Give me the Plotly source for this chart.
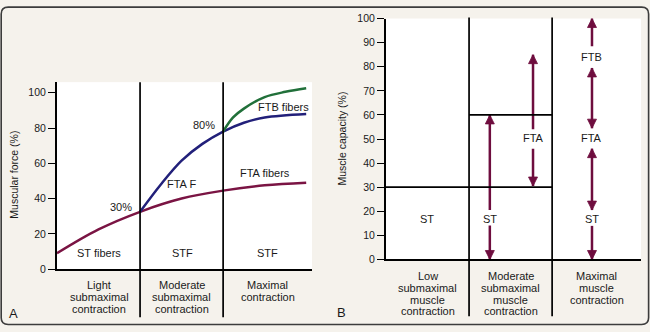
import plotly.graph_objects as go

W, H = 650, 332

# ---------------- Panel A data ----------------
st_x = [0, 0.5, 1, 1.5, 2, 2.5, 3]
st_force = [9, 22.5, 32.5, 40, 44.5, 47.5, 49]
fta_x = [1, 1.25, 1.5, 1.75, 2, 2.25, 2.5, 3]
fta_force = [32.5, 48, 61.5, 71, 78, 83, 86, 88]
ftb_x = [2, 2.12, 2.25, 2.5, 2.75, 3]
ftb_force = [78, 86, 91, 97.5, 100.5, 102.5]

a_ticks = [0, 20, 40, 60, 80, 100]
a_categories = [["Light", "submaximal", "contraction"],
                ["Moderate", "submaximal", "contraction"],
                ["Maximal", "contraction"]]
a_cat_x = [0.51, 1.5, 2.54]
a_labels = ["ST fibers", "STF", "STF", "FTA F", "FTA fibers", "FTB fibers"]
a_label_x = [0.5, 1.51, 2.53, 1.5, 2.51, 2.73]
a_label_y = [8.9, 8.9, 8.9, 48.5, 54.5, 91.8]
pct_labels = ["30%", "80%"]
pct_x = [0.93, 1.93]
pct_y = [35, 81.5]

# ---------------- Panel B data ----------------
b_ticks = [0, 10, 20, 30, 40, 50, 60, 70, 80, 90, 100]
b_categories = [["Low", "submaximal", "muscle", "contraction"],
                ["Moderate", "submaximal", "muscle", "contraction"],
                ["Maximal", "muscle", "contraction"]]
b_cat_x = [0.5, 1.5, 2.54]
b_hline_y = [30, 60]
b_hline_x0 = [0, 1]
b_hline_x1 = [2, 2]
b_labels = ["ST", "ST", "FTA", "FTB", "FTA", "ST"]
b_label_x = [0.49, 1.25, 1.77, 2.48, 2.48, 2.48]
b_label_y = [17, 17, 50.3, 83.9, 50.3, 17]
arrow_x = [1.25, 1.25, 1.77, 1.77, 2.48, 2.48, 2.48, 2.48]
arrow_from = [20.5, 14.5, 54, 46, 88.5, 54.5, 20.5, 14]
arrow_to = [60, 0, 85, 30.5, 100, 79.5, 46, 0]
arrow_double = [False, False, False, False, False, True, True, False]

dividers = [1, 2]
x_range = [0, 3.07]

# ---------------- style ----------------
FONT = "Liberation Sans, Arial, sans-serif"
TXT = "#1a1a1a"
BG = "#f5f2ec"
C_ST = "#7a1443"
C_FTA = "#22207a"
C_FTB = "#21703a"
C_ARW = "#6e0d3e"


def X(px):
    return px / W


def Y(py):
    return 1 - py / H


fig = go.Figure()

# Panel A curves
fig.add_trace(go.Scatter(x=st_x, y=st_force, mode="lines", line=dict(color=C_ST, width=2.5, shape="spline"),
                         xaxis="x", yaxis="y", hoverinfo="skip"))
fig.add_trace(go.Scatter(x=fta_x, y=fta_force, mode="lines", line=dict(color=C_FTA, width=2.5, shape="spline"),
                         xaxis="x", yaxis="y", hoverinfo="skip"))
fig.add_trace(go.Scatter(x=ftb_x, y=ftb_force, mode="lines", line=dict(color=C_FTB, width=2.5, shape="spline"),
                         xaxis="x", yaxis="y", hoverinfo="skip"))

# Panel B arrows
sx, sy = [], []
ux, uy, dx, dy = [], [], [], []
for xv, f, t, dbl in zip(arrow_x, arrow_from, arrow_to, arrow_double):
    sx += [xv, xv, None]
    sy += [f, t, None]
    if t > f:
        ux.append(xv); uy.append(t)
        if dbl:
            dx.append(xv); dy.append(f)
    else:
        dx.append(xv); dy.append(t)
        if dbl:
            ux.append(xv); uy.append(f)

fig.add_trace(go.Scatter(x=sx, y=sy, mode="lines", line=dict(color=C_ARW, width=2.5),
                         xaxis="x2", yaxis="y2", hoverinfo="skip", cliponaxis=False))
fig.add_trace(go.Scatter(x=ux, y=uy, mode="markers",
                         marker=dict(symbol="arrow-up", size=9, color=C_ARW, line=dict(width=0.8, color=C_ARW)),
                         xaxis="x2", yaxis="y2", hoverinfo="skip", cliponaxis=False))
fig.add_trace(go.Scatter(x=dx, y=dy, mode="markers",
                         marker=dict(symbol="arrow-down", size=9, color=C_ARW, line=dict(width=0.8, color=C_ARW)),
                         xaxis="x2", yaxis="y2", hoverinfo="skip", cliponaxis=False))

axis_common = dict(showgrid=False, zeroline=False, showline=True, linecolor="black", linewidth=2,
                   fixedrange=True)

fig.update_layout(
    width=W, height=H, margin=dict(l=0, r=0, t=0, b=0),
    paper_bgcolor=BG, plot_bgcolor="white", showlegend=False,
    font=dict(family=FONT, color=TXT, size=11),
    xaxis=dict(domain=[X(57), X(312)], range=x_range, showticklabels=False, ticks="", anchor="y", **axis_common),
    yaxis=dict(domain=[Y(273), Y(79)], range=[0, 106], tickvals=a_ticks, ticks="outside", ticklen=7,
               tickwidth=1.2, tickcolor="black", tickfont=dict(size=10.5, color=TXT), anchor="x", **axis_common),
    xaxis2=dict(domain=[X(386), X(641)], range=x_range, showticklabels=False, ticks="", anchor="y2", **axis_common),
    yaxis2=dict(domain=[Y(263), Y(13)], range=[0, 100], tickvals=b_ticks, ticks="outside", ticklen=7,
                tickwidth=1.2, tickcolor="black", tickfont=dict(size=10.5, color=TXT), anchor="x2", **axis_common),
)

shapes = []
# dividers
for d in dividers:
    shapes.append(dict(type="line", xref="x", yref="paper", x0=d, x1=d, y0=Y(323), y1=Y(79),
                       line=dict(color="black", width=1.7), layer="above"))
    shapes.append(dict(type="line", xref="x2", yref="paper", x0=d, x1=d, y0=Y(322), y1=Y(12),
                       line=dict(color="black", width=1.7), layer="above"))
for yv, x0, x1 in zip(b_hline_y, b_hline_x0, b_hline_x1):
    shapes.append(dict(type="line", xref="x2", yref="y2", x0=x0, x1=x1, y0=yv, y1=yv,
                       line=dict(color="black", width=1.7), layer="above"))

# outer rounded border
x0, x1, y0, y1, r = 1.2, 648.6, 1.2, 330.4, 7
path = (f"M {X(x0 + r)},{Y(y0)} L {X(x1 - r)},{Y(y0)} Q {X(x1)},{Y(y0)} {X(x1)},{Y(y0 + r)} "
        f"L {X(x1)},{Y(y1 - r)} Q {X(x1)},{Y(y1)} {X(x1 - r)},{Y(y1)} "
        f"L {X(x0 + r)},{Y(y1)} Q {X(x0)},{Y(y1)} {X(x0)},{Y(y1 - r)} "
        f"L {X(x0)},{Y(y0 + r)} Q {X(x0)},{Y(y0)} {X(x0 + r)},{Y(y0)} Z")
shapes.append(dict(type="path", xref="paper", yref="paper", path=path,
                   line=dict(color="#3c3c3c", width=1.6), fillcolor="rgba(0,0,0,0)", layer="above"))
fig.update_layout(shapes=shapes)

ann = []
# panel A in-plot labels
for t, xv, yv in zip(a_labels, a_label_x, a_label_y):
    ann.append(dict(text=t, x=xv, y=yv, xref="x", yref="y", showarrow=False,
                    xanchor="center", yanchor="middle", font=dict(size=11)))
for t, xv, yv in zip(pct_labels, pct_x, pct_y):
    ann.append(dict(text=t, x=xv, y=yv, xref="x", yref="y", showarrow=False,
                    xanchor="right", yanchor="middle", font=dict(size=11)))
# panel B in-plot labels
for t, xv, yv in zip(b_labels, b_label_x, b_label_y):
    ann.append(dict(text=t, x=xv, y=yv, xref="x2", yref="y2", showarrow=False,
                    xanchor="center", yanchor="middle", font=dict(size=11), bgcolor="white", borderpad=0))

# category labels (one annotation per line)
for lines, xv in zip(a_categories, a_cat_x):
    for i, ln in enumerate(lines):
        ann.append(dict(text=ln, x=xv, y=Y(289 + 12.5 * i), xref="x", yref="paper", showarrow=False,
                        xanchor="center", yanchor="middle", font=dict(size=11)))
for lines, xv in zip(b_categories, b_cat_x):
    for i, ln in enumerate(lines):
        ann.append(dict(text=ln, x=xv, y=Y(280 + 12.3 * i), xref="x2", yref="paper", showarrow=False,
                        xanchor="center", yanchor="middle", font=dict(size=11)))

# axis titles
ann.append(dict(text="Muscular force (%)", x=X(14), y=Y(175), xref="paper", yref="paper", showarrow=False,
                textangle=-90, xanchor="center", yanchor="middle", font=dict(size=10.5)))
ann.append(dict(text="Muscle capacity (%)", x=X(342), y=Y(137.5), xref="paper", yref="paper", showarrow=False,
                textangle=-90, xanchor="center", yanchor="middle", font=dict(size=10.5)))
# panel letters
ann.append(dict(text="A", x=X(13), y=Y(319.5), xref="paper", yref="paper", showarrow=False,
                xanchor="center", yanchor="middle", font=dict(size=13)))
ann.append(dict(text="B", x=X(341), y=Y(318), xref="paper", yref="paper", showarrow=False,
                xanchor="center", yanchor="middle", font=dict(size=13)))
fig.update_layout(annotations=ann)

fig.write_html("out.html")
